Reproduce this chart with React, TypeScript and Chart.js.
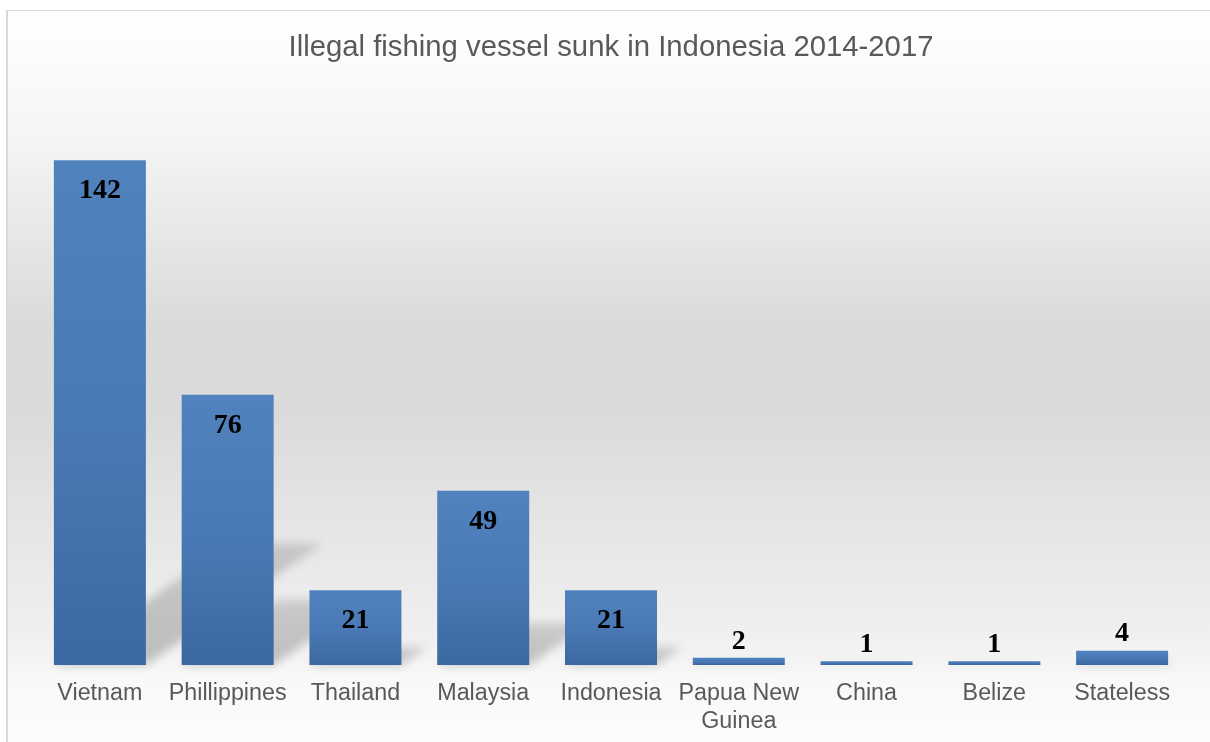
import React, { useEffect, useRef } from "react";
import { Chart, registerables } from "chart.js";

Chart.register(...registerables);

const categories: (string | string[])[] = [
  "Vietnam",
  "Phillippines",
  "Thailand",
  "Malaysia",
  "Indonesia",
  ["Papua New", "Guinea"],
  "China",
  "Belize",
  "Stateless",
];
const vessels = [142, 76, 21, 49, 21, 2, 1, 1, 4];
const titleText = "Illegal fishing vessel sunk in Indonesia 2014-2017";
const yMax = 160;

const SANS = "'Liberation Sans', Arial, sans-serif";
const SERIF = "'Liberation Serif', 'Times New Roman', serif";

const barShadows = {
  id: "barShadows",
  beforeDatasetsDraw(chart: any) {
    const ctx = chart.ctx;
    const meta = chart.getDatasetMeta(0);
    ctx.save();
    ctx.filter = "blur(5px)";
    meta.data.forEach((bar: any) => {
      const h = bar.base - bar.y;
      const w = bar.width;
      const l = bar.x - w / 2;
      const ty = bar.base - h * 0.24;
      const dx = h * 0.35;
      const g = ctx.createLinearGradient(0, bar.base, 0, ty);
      g.addColorStop(0, "rgba(0,0,0,0.22)");
      g.addColorStop(1, "rgba(0,0,0,0.14)");
      ctx.fillStyle = g;
      ctx.beginPath();
      ctx.moveTo(l, bar.base);
      ctx.lineTo(l + w, bar.base);
      ctx.lineTo(l + w + dx, ty);
      ctx.lineTo(l + dx, ty);
      ctx.closePath();
      ctx.fill();
    });
    ctx.restore();
  },
};

const valueLabels = {
  id: "valueLabels",
  afterDatasetsDraw(chart: any) {
    const ctx = chart.ctx;
    const meta = chart.getDatasetMeta(0);
    ctx.save();
    ctx.font = `bold 28px ${SERIF}`;
    ctx.fillStyle = "#000000";
    ctx.textAlign = "center";
    ctx.textBaseline = "middle";
    meta.data.forEach((bar: any, i: number) => {
      const h = bar.base - bar.y;
      const y = h > 45 ? bar.y + 30.5 : bar.y - 16.5;
      ctx.fillText(String(vessels[i]), bar.x, y);
    });
    ctx.restore();
  },
};

export default function App() {
  const ref = useRef<HTMLCanvasElement>(null);

  useEffect(() => {
    if (!ref.current) return;
    const chart = new Chart(ref.current, {
      type: "bar",
      data: {
        labels: categories as any,
        datasets: [
          {
            data: vessels,
            backgroundColor: (c: any) => {
              const ch = c.chart;
              const { ctx, chartArea, scales } = ch;
              if (!chartArea || c.dataIndex === undefined || !scales.y) return "#4a7ab5";
              const top = scales.y.getPixelForValue(vessels[c.dataIndex]);
              const bottom = scales.y.getPixelForValue(0);
              const g = ctx.createLinearGradient(0, top, 0, bottom);
              g.addColorStop(0, "#5082be");
              g.addColorStop(0.5, "#4a7ab6");
              g.addColorStop(1, "#3c68a1");
              return g;
            },
            borderWidth: 0,
            categoryPercentage: 1,
            barPercentage: 0.72,
          },
        ],
      },
      options: {
        responsive: false,
        animation: false,
        devicePixelRatio: 1,
        layout: { padding: { left: 36, right: 24, top: 0, bottom: 9 } },
        plugins: {
          legend: { display: false },
          tooltip: { enabled: false },
          title: {
            display: true,
            text: titleText,
            color: "#595959",
            font: { family: SANS, size: 29.3, weight: "normal" as any },
            padding: { top: 30.6, bottom: 30.6 },
          },
        },
        scales: {
          x: {
            grid: { display: false, drawTicks: false },
            border: { display: false },
            ticks: {
              color: "#595959",
              font: { family: SANS, size: 23.3 },
              padding: 15.1,
              maxRotation: 0,
              autoSkip: false,
            },
          },
          y: {
            display: false,
            min: 0,
            max: yMax,
          },
        },
      },
      plugins: [barShadows, valueLabels],
    });
    return () => chart.destroy();
  }, []);

  return (
    <div style={{ position: "fixed", inset: 0, overflow: "hidden", background: "#ffffff" }}>
      <div
        style={{
          position: "absolute",
          left: 6,
          top: 10,
          width: 1240,
          height: 740,
          boxSizing: "border-box",
          borderLeft: "2px solid #d9d9d9",
          borderTop: "1px solid #d9d9d9",
          background:
            "linear-gradient(to bottom, #ffffff 0%, #f5f5f5 17%, #dadada 43%, #dbdbdb 55%, #e3e3e3 66%, #f0f0f0 85%, #f8f8f8 90%, #fdfdfd 100%)",
        }}
      />
      <canvas
        ref={ref}
        width={1210}
        height={760}
        style={{ position: "absolute", left: 0, top: 0, width: 1210, height: 760 }}
      />
    </div>
  );
}
